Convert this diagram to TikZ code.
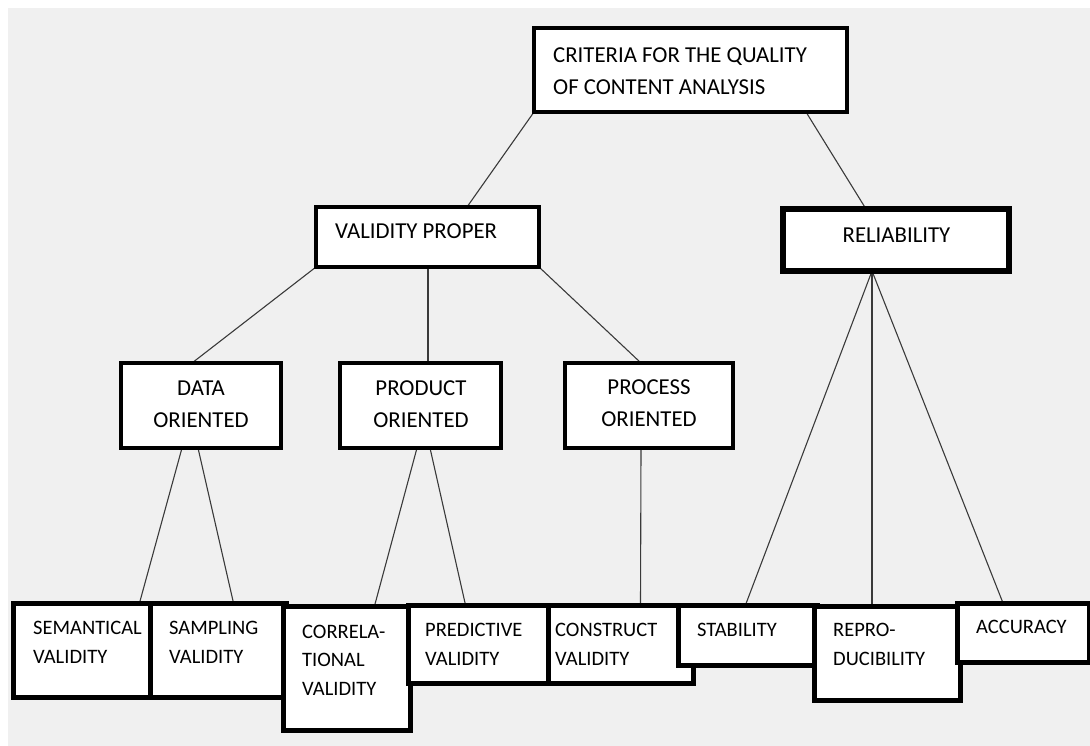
\documentclass[tikz,border=0pt]{standalone}
\usepackage{fontspec}
\setmainfont{Carlito}
\usetikzlibrary{calc}
\definecolor{bggray}{HTML}{F0F0F0}
\definecolor{linegray}{HTML}{3A3A3A}
\tikzset{
  box/.style={draw=black, fill=white, line width=4pt, inner sep=0pt},
  lowbox/.style={draw=black, fill=white, line width=5pt, inner sep=0pt},
  conn/.style={draw=linegray, line width=1.1pt},
  bigtxt/.style={inner sep=0pt, font=\fontsize{22.8}{32}\selectfont},
  smalltxt/.style={inner sep=0pt, align=left, font=\fontsize{20.5}{29.5}\selectfont},
}
\begin{document}
\begin{tikzpicture}[x=1pt,y=-1pt]
\useasboundingbox (0,0) rectangle (1090,746);
\fill[white] (0,0) rectangle (1090,746);
\fill[bggray] (8,8) rectangle (1090,746);
% box geometry (nodes first, drawn empty; lines drawn on background layer via order)
\path
  (690.5,70) node[box, minimum width=309pt, minimum height=80pt, draw=none, fill=none] (crit) {}
  (427.5,237) node[box, minimum width=219pt, minimum height=56pt, draw=none, fill=none] (valid) {}
  (896,240) node[box, line width=5.5pt, minimum width=220.5pt, minimum height=56.5pt, draw=none, fill=none] (rel) {}
  (201,405.5) node[box, minimum width=156pt, minimum height=81pt, draw=none, fill=none] (data) {}
  (420.5,405.5) node[box, minimum width=157pt, minimum height=81pt, draw=none, fill=none] (prod) {}
  (649,405.5) node[box, minimum width=164pt, minimum height=81pt, draw=none, fill=none] (proc) {}
  (83,650) node[lowbox, minimum width=135pt, minimum height=89pt, draw=none, fill=none] (sem) {}
  (218,650) node[lowbox, minimum width=131pt, minimum height=89pt, draw=none, fill=none] (samp) {}
  (346.5,668) node[lowbox, minimum width=122pt, minimum height=119pt, draw=none, fill=none] (corr) {}
  (480,644) node[lowbox, minimum width=139pt, minimum height=73pt, draw=none, fill=none] (pred) {}
  (620.5,644) node[lowbox, minimum width=140pt, minimum height=73pt, draw=none, fill=none] (cons) {}
  (747.5,635) node[lowbox, minimum width=134pt, minimum height=55pt, draw=none, fill=none] (stab) {}
  (887,653) node[lowbox, minimum width=141pt, minimum height=89pt, draw=none, fill=none] (repro) {}
  (1023,632.5) node[lowbox, minimum width=127pt, minimum height=54pt, draw=none, fill=none] (acc) {};
% connectors
\draw[conn] (crit.south west) -- ($(valid.north west)+(151,0)$);
\draw[conn] ($(crit.south west)+(272,0)$) -- ($(rel.north west)+(83,0)$);
\draw[conn] (valid.south west) -- ($(data.north west)+(71,0)$);
\draw[conn] ($(valid.south west)+(112,0)$) -- ($(prod.north west)+(88,0)$);
\draw[conn] (valid.south east) -- ($(proc.north west)+(76,0)$);
\draw[conn] ($(data.south west)+(61,0)$) -- ($(sem.north west)+(126.5,0)$);
\draw[conn] ($(data.south west)+(77,0)$) -- ($(samp.north west)+(83.5,0)$);
\draw[conn] ($(prod.south west)+(77,0)$) -- ($(corr.north west)+(91.5,0)$);
\draw[conn] ($(prod.south west)+(90,0)$) -- ($(pred.north west)+(57.5,0)$);
\draw[conn] ($(proc.south west)+(76,0)$) -- ($(cons.north west)+(92.5,0)$);
\draw[conn] ($(rel.south west)+(89,0)$) -- ($(stab.north west)+(67.5,0)$);
\draw[conn] ($(rel.south west)+(89,0)$) -- ($(repro.north west)+(58,0)$);
\draw[conn] ($(rel.south west)+(89,0)$) -- ($(acc.north west)+(46,0)$);
% visible boxes
\draw[box] (crit.north west) rectangle (crit.south east);
\draw[box] (valid.north west) rectangle (valid.south east);
\draw[box, line width=5.5pt] (rel.north west) rectangle (rel.south east);
\draw[box] (data.north west) rectangle (data.south east);
\draw[box] (prod.north west) rectangle (prod.south east);
\draw[box] (proc.north west) rectangle (proc.south east);
\draw[lowbox] (sem.north west) rectangle (sem.south east);
\draw[lowbox] (samp.north west) rectangle (samp.south east);
\draw[lowbox] (corr.north west) rectangle (corr.south east);
\draw[lowbox] (pred.north west) rectangle (pred.south east);
\draw[lowbox] (cons.north west) rectangle (cons.south east);
\draw[lowbox] (stab.north west) rectangle (stab.south east);
\draw[lowbox] (repro.north west) rectangle (repro.south east);
\draw[lowbox] (acc.north west) rectangle (acc.south east);
% texts
\node[bigtxt, align=left, anchor=north west] (critt) at (553,47.3) {CRITERIA FOR THE QUALITY\\OF CONTENT ANALYSIS};
\node[bigtxt, anchor=base west] (validt) at (335,239) {VALIDITY PROPER};
\node[bigtxt, anchor=base] (relt) at (896.5,243) {RELIABILITY};
\node[bigtxt, align=center, anchor=north] (datat) at (201,380.3) {DATA\\ORIENTED};
\node[bigtxt, align=center, anchor=north] (prodt) at (421,380.3) {PRODUCT\\ORIENTED};
\node[bigtxt, align=center, anchor=north] (proct) at (649,379.3) {PROCESS\\ORIENTED};
\node[smalltxt, anchor=north west] (semt) at (33,620.8) {SEMANTICAL\\VALIDITY};
\node[smalltxt, anchor=north west] (sampt) at (169,620.8) {SAMPLING\\VALIDITY};
\node[smalltxt, anchor=north west, font=\fontsize{20.5}{28.5}\selectfont] (corrt) at (302,624.8) {CORRELA-\\TIONAL\\VALIDITY};
\node[smalltxt, anchor=north west] (predt) at (425,622.8) {PREDICTIVE\\VALIDITY};
\node[smalltxt, anchor=north west] (const) at (555,622.8) {CONSTRUCT\\VALIDITY};
\node[smalltxt, anchor=base west] (stabt) at (697,636) {STABILITY};
\node[smalltxt, anchor=north west] (reprot) at (833,622.8) {REPRO-\\DUCIBILITY};
\node[smalltxt, anchor=base west] (acct) at (976,633) {ACCURACY};
\end{tikzpicture}
\end{document}
